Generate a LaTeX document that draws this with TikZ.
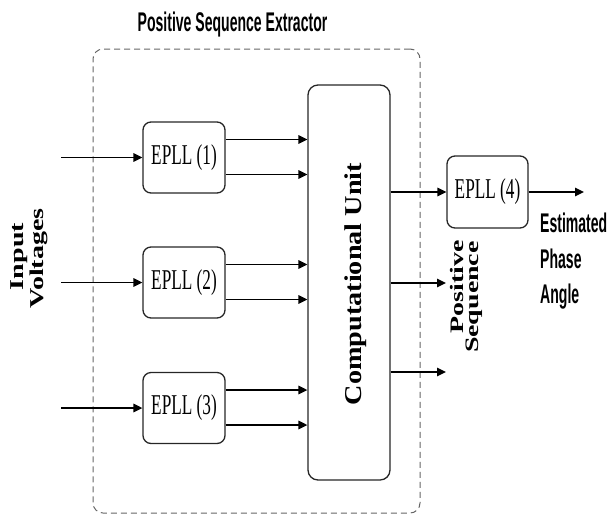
\documentclass[tikz,border=0pt]{standalone}
\usepackage{fontspec}
\usepackage{graphicx}
\setmainfont{Liberation Serif}
\newfontfamily\headsans{Liberation Sans}
\usetikzlibrary{arrows.meta,calc}

% condensed serif text inside the EPLL blocks
\newcommand\blocktext[1]{\scalebox{0.6}[1]{\fontsize{28.7pt}{30pt}\selectfont #1}}
% condensed bold sans captions
\newcommand\sanscap[1]{\scalebox{0.52}[1]{\fontsize{27pt}{28pt}\selectfont\headsans\bfseries #1}}
% stretched bold serif captions (set rotated)
\newcommand\serifcap[2]{\scalebox{#1}[1]{\fontsize{19.6pt}{20pt}\selectfont\bfseries #2}}

\begin{document}
\begin{tikzpicture}[x=1pt,y=-1pt,
  blockbox/.style={draw=black!85, line width=1.3pt, rounded corners=8pt,
    minimum width=82pt, minimum height=71pt, inner sep=0pt},
  sig/.style={line width=1.6pt, -{Triangle[length=9pt,width=8.5pt]}},
  groupbox/.style={draw=black!60, line width=1pt, dash pattern=on 6pt off 4pt,
    rounded corners=10pt, minimum width=327pt, minimum height=464pt, inner sep=0pt},
  unitbox/.style={draw=black!85, line width=1.3pt, rounded corners=10pt,
    minimum width=82pt, minimum height=395pt, inner sep=0pt}]
\useasboundingbox (0,0) rectangle (612,515);

% extractor group
\node[groupbox] (pse) at (256.5,281) {};
\node[anchor=base, inner sep=0pt] (title) at (232.5,31)
  {\sanscap{Positive Sequence Extractor}};

% blocks
\node[blockbox] (e1) at (184,157.5) {\blocktext{EPLL (1)}};
\node[blockbox] (e2) at (184,282.5) {\blocktext{EPLL (2)}};
\node[blockbox] (e3) at (184,408)   {\blocktext{EPLL (3)}};
\node[unitbox]  (cu) at (349,282.5) {};
\node[blockbox, minimum width=81pt, minimum height=72pt] (e4) at (487.5,192)
  {\blocktext{EPLL (4)}};

% labels
\node[rotate=90, anchor=base, inner sep=0pt] (culabel) at (361,284)
  {\scalebox{1.165}[1]{\fontsize{24.2pt}{26pt}\selectfont\bfseries Computational Unit}};
\node[rotate=90, anchor=base, inner sep=0pt] (inlabel1) at (23,256.5)
  {\serifcap{1.43}{Input}};
\node[rotate=90, anchor=base, inner sep=0pt] (inlabel2) at (43,258.5)
  {\serifcap{1.43}{Voltages}};
\node[rotate=90, anchor=base east, inner sep=0pt] (pslabel1) at (463,240)
  {\scalebox{1.47}[1]{\fontsize{19pt}{20pt}\selectfont\bfseries Positive}};
\node[rotate=90, anchor=base east, inner sep=0pt] (pslabel2) at (478,241)
  {\scalebox{1.47}[1]{\fontsize{19pt}{20pt}\selectfont\bfseries Sequence}};
\node[anchor=base west, inner sep=0pt] (estl1) at (540,232) {\sanscap{Estimated}};
\node[anchor=base west, inner sep=0pt] (estl2) at (540,268) {\sanscap{Phase}};
\node[anchor=base west, inner sep=0pt] (estl3) at (540,303) {\sanscap{Angle}};

% input signals
\coordinate (inx) at (61,0);
\foreach \b in {e1,e2,e3}
  \draw[sig] (\b.west -| inx) -- (\b.west);

% two outputs of each EPLL into the computational unit
\foreach \b in {e1,e2,e3} {
  \path ($(\b.east)+(0,-18)$) coordinate (ta);
  \path ($(\b.east)+(0,17)$) coordinate (tb);
  \draw[sig] (ta) -- (ta -| cu.west);
  \draw[sig] (tb) -- (tb -| cu.west);
}

% computational unit outputs
\coordinate (ps) at (446,283);
\coordinate (o3) at (446,372);
\coordinate (est) at (584,192);
\draw[sig] (e4.west -| cu.east) -- (e4.west);
\draw[sig] (ps -| cu.east) -- (ps);
\draw[sig] (o3 -| cu.east) -- (o3);
\draw[sig] (e4.east) -- (est);
\end{tikzpicture}
\end{document}
